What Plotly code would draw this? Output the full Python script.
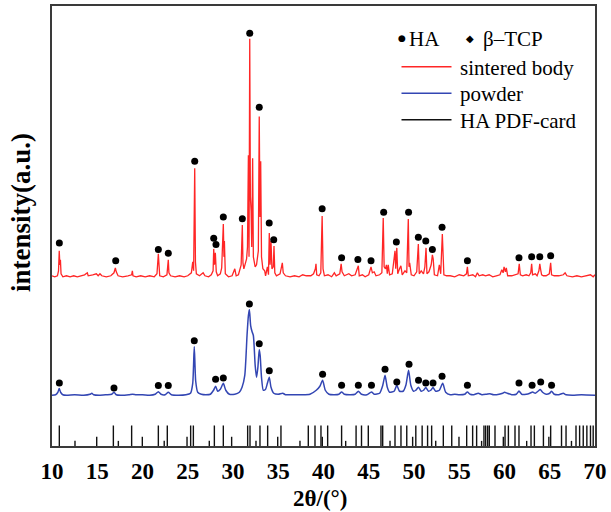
import plotly.graph_objects as go

# ---------------- data ----------------
# sintered body: 2theta and intensity above its own baseline (a.u.)
sint_x = [10.0, 10.3, 10.6, 10.72, 10.8, 10.87, 10.93, 11.0, 11.2, 11.6, 12.0, 12.4, 12.8, 13.2, 13.6, 13.9, 14.0,
          14.5, 14.9, 15.1, 15.3, 15.5, 16.0, 16.5, 16.85, 17.0, 17.1, 17.3, 17.8, 18.4, 18.8, 18.88, 18.95, 19.3,
          19.8, 20.3, 20.8, 21.3, 21.6, 21.75, 21.82, 21.9, 22.3, 22.7, 22.85, 22.92, 23.1, 23.6, 24.1, 24.6, 25.0,
          25.4, 25.55, 25.65, 25.77, 25.85, 25.95, 26.3, 26.7, 26.9, 27.3, 27.6, 27.8, 27.87, 27.95, 28.05, 28.15,
          28.3, 28.6, 28.75, 28.93, 29.0, 29.05, 29.15, 29.5, 29.9, 30.2, 30.35, 30.6, 30.9, 31.03, 31.1, 31.2,
          31.35, 31.5, 31.6, 31.7, 31.77, 31.85, 31.92, 32.0, 32.07, 32.17, 32.25, 32.35, 32.45, 32.6, 32.72, 32.8,
          32.9, 32.98, 33.06, 33.15, 33.3, 33.5, 33.6, 33.8, 33.92, 34.01, 34.1, 34.2, 34.3, 34.45, 34.53, 34.62,
          34.8, 35.2, 35.45, 35.55, 35.8, 36.3, 36.8, 37.3, 37.7, 38.1, 38.6, 38.9, 39.1, 39.17, 39.25, 39.5, 39.7,
          39.85, 39.95, 40.1, 40.5, 40.9, 41.2, 41.4, 41.8, 41.95, 42.05, 42.3, 42.8, 43.1, 43.5, 43.85, 43.95,
          44.3, 44.6, 45.0, 45.25, 45.4, 45.6, 45.8, 46.2, 46.45, 46.6, 46.7, 46.85, 46.95, 47.05, 47.15, 47.3,
          47.6, 47.9, 47.98, 48.1, 48.2, 48.4, 48.55, 48.7, 49.0, 49.2, 49.37, 49.45, 49.52, 49.7, 50.0, 50.3,
          50.48, 50.58, 50.8, 51.05, 51.2, 51.33, 51.43, 51.65, 51.9, 52.03, 52.12, 52.25, 52.6, 52.8, 52.95,
          53.13, 53.2, 53.3, 53.6, 54.0, 54.5, 55.0, 55.5, 55.8, 55.9, 56.0, 56.5, 56.8, 57.0, 57.2, 57.6, 57.9,
          58.3, 58.7, 59.1, 59.5, 59.7, 59.85, 59.95, 60.1, 60.2, 60.35, 60.8, 61.3, 61.5, 61.63, 61.75, 62.0,
          62.4, 62.7, 62.9, 63.0, 63.1, 63.4, 63.6, 63.8, 63.9, 64.0, 64.1, 64.3, 64.6, 64.95, 65.1, 65.2, 65.5,
          66.0, 66.5, 66.7, 66.9, 67.5, 68.0, 68.5, 69.0, 69.5, 69.8, 70.0]
sint_y = [1, 0, 1, 6, 26, 12, 17, 3, 0, 1, 0, 1, 0, 1, 2, 4, 1,
          2, 3, 1, 3, 1, 0, 1, 4, 9, 5, 1, 0, 1, 2, 6, 1, 0,
          1, 0, 1, 0, 3, 23, 6, 1, 0, 2, 17, 4, 1, 0, 1, 0, 1,
          4, 15, 6, 109, 15, 3, 1, 4, 1, 0, 2, 6, 28, 12, 24, 5,
          1, 3, 9, 53, 20, 36, 3, 0, 1, 8, 1, 2, 12, 52, 14, 8,
          12, 18, 30, 122, 20, 239, 80, 66, 30, 119, 20, 14, 10, 12, 18, 26,
          161, 60, 116, 20, 8, 6, 1, 10, 2, 44, 12, 36, 8, 10, 31, 4,
          1, 3, 14, 4, 1, 0, 1, 0, 2, 1, 1, 3, 8, 13, 2, 1, 4,
          61, 8, 1, 2, 0, 4, 1, 3, 13, 5, 1, 3, 1, 2, 11, 1,
          2, 0, 2, 10, 4, 5, 1, 2, 4, 59, 10, 8, 12, 3, 12, 2,
          3, 26, 8, 29, 3, 8, 11, 2, 6, 4, 58, 10, 14, 2, 1, 5,
          33, 3, 6, 3, 10, 29, 3, 5, 12, 22, 18, 2, 1, 12, 3,
          43, 24, 2, 1, 1, 0, 2, 1, 3, 10, 1, 2, 0, 4, 1, 2, 1,
          2, 0, 1, 2, 7, 4, 10, 5, 9, 1, 1, 2, 3, 13, 2, 1,
          2, 1, 4, 13, 2, 3, 1, 6, 13, 7, 2, 1, 1, 3, 14, 2, 1,
          1, 2, 4, 1, 0, 1, 0, 1, 2, 0, 2]

# powder: 2theta and intensity above its own baseline (a.u.)
powder_x = [10.0, 10.4, 10.65, 10.8, 10.95, 11.2, 11.6, 12.5, 13.5, 14.2, 14.4, 14.6, 15.2, 16.0, 16.6, 16.85, 17.1,
            17.6, 18.5, 18.9, 19.3, 20.0, 20.8, 21.4, 21.75, 22.05, 22.5, 22.85, 23.2, 24.0, 24.8, 25.3, 25.55,
            25.72, 25.88, 26.1, 26.5, 27.0, 27.5, 27.85, 28.08, 28.3, 28.6, 28.93, 29.2, 29.6, 30.2, 30.7, 31.0,
            31.3, 31.55, 31.7, 31.81, 31.95, 32.1, 32.25, 32.45, 32.6, 32.75, 32.9, 33.0, 33.15, 33.35, 33.6, 33.8,
            34.01, 34.2, 34.5, 35.0, 35.5, 35.8, 36.5, 37.5, 38.5, 39.2, 39.6, 39.9, 40.2, 40.6, 41.2, 41.7, 42.0,
            42.3, 43.0, 43.5, 43.85, 44.2, 44.8, 45.3, 45.6, 46.2, 46.55, 46.8, 47.05, 47.3, 47.8, 48.1, 48.4, 48.8,
            49.1, 49.4, 49.65, 49.95, 50.2, 50.5, 50.8, 51.05, 51.3, 51.6, 51.85, 52.1, 52.4, 52.8, 53.17, 53.5,
            54.0, 54.5, 55.0, 55.6, 55.9, 56.2, 56.6, 57.1, 57.5, 58.0, 58.4, 58.8, 59.4, 59.8, 60.0, 60.3, 60.8,
            61.3, 61.6, 61.9, 62.4, 62.8, 63.1, 63.4, 63.7, 63.95, 64.2, 64.6, 65.0, 65.2, 65.5, 66.0, 66.5, 66.8,
            67.5, 68.5, 70.0]
powder_y = [0, 0.5, 3, 6.7, 3, 0.5, 0, 0.5, 0, 1, 2, 0.5, 0, 0.5, 1, 3, 0.5,
            0, 0.5, 1, 0.5, 0.5, 0, 1, 3.5, 1, 0.5, 3, 0.5, 0, 0.5, 2, 12,
            49, 14, 3, 1, 0.5, 1, 5, 9, 4, 6, 12, 5, 1, 1, 3, 8,
            20, 60, 80, 86, 70, 64, 60, 30, 18, 28, 46, 40, 18, 5, 6, 12,
            18, 8, 2, 1, 2, 0.5, 0.5, 0.5, 1, 5, 9, 15, 5, 1, 0.5, 1, 3.3,
            1, 0.5, 1, 4, 1, 0.5, 3.3, 1, 2, 10, 20, 8, 3, 4, 10, 4, 4,
            10, 25, 10, 4, 5, 8, 4, 5, 7.7, 4, 5, 7.7, 4, 5, 12, 3,
            0.5, 1, 0.5, 1, 3.3, 1, 0.5, 2, 0.5, 1, 1.6, 0.5, 1, 2, 3, 2, 0.5,
            1, 4.3, 1, 1, 2, 3.3, 2, 4, 5.7, 3, 1, 2, 4, 1, 0.5, 2, 0.5,
            0, 0.5, 0]

# HA phase markers (2theta, height above baseline)
sint_mark_x = [10.81, 17.04, 21.75, 22.85, 25.77, 27.87, 28.12, 28.93, 31.03, 31.85, 32.9, 34.0, 34.5, 39.85,
               42.0, 43.8, 45.25, 46.65, 48.05, 49.4, 50.48, 51.3, 52.03, 53.1, 55.9, 61.6, 63.0, 63.9, 65.1]
sint_mark_y = [34, 16, 27.3, 23.7, 116, 38.7, 32.3, 60, 58.3, 244.7, 170.3, 54, 37.3, 68.3,
               19, 17.3, 16, 64.7, 35, 64.7, 39.7, 36, 27.3, 49.7, 16, 19, 20, 20, 21]
powder_mark_x = [10.81, 16.85, 21.75, 22.85, 25.72, 28.08, 28.93, 31.81, 32.9, 34.01, 39.9, 42.0, 43.85, 45.3,
                 46.8, 48.1, 49.45, 50.5, 51.3, 52.1, 53.1, 55.9, 61.6, 63.05, 64.0, 65.2]
powder_mark_y = [12.3, 7.3, 9.7, 9.7, 54.7, 16, 17.3, 91.7, 51.7, 24.7, 21, 10, 10, 10,
                 26, 13.3, 31, 15, 12.3, 12.3, 19, 10, 12.3, 10, 13.3, 10]

# HA PDF card: line positions and relative intensities
card_x = [10.81, 12.54, 14.94, 16.78, 17.33, 18.8, 19.98, 21.75, 22.4, 22.74, 24.92, 25.32, 25.62, 27.38, 27.94,
          28.93, 29.85, 31.62, 31.88, 32.54, 32.98, 33.83, 34.94, 35.3, 37.4, 38.32, 39.06, 39.72, 39.87, 40.46,
          42.0, 42.45, 43.6, 44.2, 44.95, 46.35, 46.54, 47.35, 47.9, 48.56, 49.2, 49.85, 50.2, 50.9, 51.5, 51.95,
          52.4, 53.24, 54.17, 54.97, 55.82, 56.48, 56.92, 57.47, 57.73, 57.92, 58.14, 58.32, 58.95, 59.87, 60.06,
          60.43, 61.16, 61.6, 62.45, 62.93, 63.3, 64.3, 64.9, 65.1, 66.3, 66.8, 67.4, 67.9, 68.3, 68.7, 69.1,
          69.5, 69.8]
card_i = [100, 25, 45, 100, 25, 100, 45, 100, 25, 100, 45, 100, 100, 25, 100,
          100, 45, 100, 100, 25, 100, 100, 45, 100, 25, 100, 100, 100, 45, 100,
          100, 25, 100, 100, 100, 100, 100, 25, 100, 100, 100, 45, 100, 100, 100, 100,
          25, 100, 100, 45, 100, 100, 100, 25, 100, 100, 100, 100, 100, 45, 100,
          100, 100, 100, 25, 100, 100, 100, 45, 100, 100, 100, 25, 100, 100, 100, 100,
          100, 100]

x_ticks = [10, 15, 20, 25, 30, 35, 40, 45, 50, 55, 60, 65, 70]

# ---------------- presentation ----------------
SINT_OFFSET = 170
POWDER_OFFSET = 51
CARD_SCALE = 0.206
RED = "#ff2626"
BLUE = "#3346b3"
SERIF = "Liberation Serif, Times New Roman, serif"

W, H = 611, 512
L, R, T, B = 52, 16, 4, 66
PW, PH = W - L - R, H - T - B


def px(xp):
    return (xp - L) / PW


def py(yp):
    return (T + PH - yp) / PH


fig = go.Figure()

fig.add_trace(go.Scatter(x=sint_x, y=[v + SINT_OFFSET for v in sint_y], mode="lines",
                         line=dict(color=RED, width=1.3), showlegend=False, hoverinfo="skip"))
fig.add_trace(go.Scatter(x=powder_x, y=[v + POWDER_OFFSET for v in powder_y], mode="lines",
                         line=dict(color=BLUE, width=1.5, shape="spline", smoothing=0.6),
                         showlegend=False, hoverinfo="skip"))

cx, cy = [], []
for p, i in zip(card_x, card_i):
    cx += [p, p, None]
    cy += [0, i * CARD_SCALE, None]
fig.add_trace(go.Scatter(x=cx, y=cy, mode="lines", line=dict(color="#111111", width=1.4),
                         showlegend=False, hoverinfo="skip"))

fig.add_trace(go.Scatter(x=sint_mark_x, y=[v + SINT_OFFSET for v in sint_mark_y], mode="markers",
                         marker=dict(color="black", size=7), showlegend=False, hoverinfo="skip"))
fig.add_trace(go.Scatter(x=powder_mark_x, y=[v + POWDER_OFFSET for v in powder_mark_y], mode="markers",
                         marker=dict(color="black", size=7), showlegend=False, hoverinfo="skip"))

# legend drawn by hand
ann = []
ann.append(dict(x=px(401.5), y=py(36.5), text="●", font=dict(size=9, color="black", family="DejaVu Sans"),
                xanchor="center", yanchor="middle"))
ann.append(dict(x=px(407), y=py(37), text="HA", font=dict(size=21, color="black", family=SERIF),
                xanchor="left", yanchor="middle"))
ann.append(dict(x=px(470), y=py(36.5), text="◆", font=dict(size=10, color="black", family="DejaVu Sans"),
                xanchor="center", yanchor="middle"))
ann.append(dict(x=px(481), y=py(37), text="β–TCP", font=dict(size=21, color="black", family=SERIF),
                xanchor="left", yanchor="middle"))
rows = [("sintered body", RED, 65), ("powder", BLUE, 91.7), ("HA PDF-card", "#111111", 118.3)]
shapes = []
for label, col, yy in rows:
    shapes.append(dict(type="line", xref="paper", yref="paper", x0=px(401.5), x1=px(451.5),
                       y0=py(yy), y1=py(yy), line=dict(color=col, width=1.5)))
    ann.append(dict(x=px(458), y=py(yy + 1), text=label, font=dict(size=21, color="black", family=SERIF),
                    xanchor="left", yanchor="middle"))

ann.append(dict(x=px(320), y=py(499), text="<b>2θ/(°)</b>", font=dict(size=23, color="black", family=SERIF),
                xanchor="center", yanchor="middle"))
ann.append(dict(x=px(21), y=py(212), text="<b>intensity(a.u.)</b>", textangle=-90,
                font=dict(size=27, color="black", family=SERIF), xanchor="center", yanchor="middle"))
for a in ann:
    a.update(xref="paper", yref="paper", showarrow=False)

fig.update_layout(
    width=W, height=H,
    margin=dict(l=L, r=R, t=T, b=B),
    paper_bgcolor="white", plot_bgcolor="white",
    annotations=ann, shapes=shapes, showlegend=False,
    xaxis=dict(range=[10, 70], tickvals=x_ticks, ticktext=[f"<b>{t}</b>" for t in x_ticks],
               ticks="", showgrid=False, zeroline=False, showline=True, mirror=True,
               linecolor="#3a3a3a", linewidth=2, ticklabelstandoff=3,
               tickfont=dict(size=23, color="black", family=SERIF)),
    yaxis=dict(range=[0, PH], showticklabels=False, ticks="", showgrid=False, zeroline=False,
               showline=True, mirror=True, linecolor="#3a3a3a", linewidth=2),
)

fig.write_html("out.html", config={"displayModeBar": False},
               post_script="document.body.style.margin='0';document.body.style.padding='0';")
